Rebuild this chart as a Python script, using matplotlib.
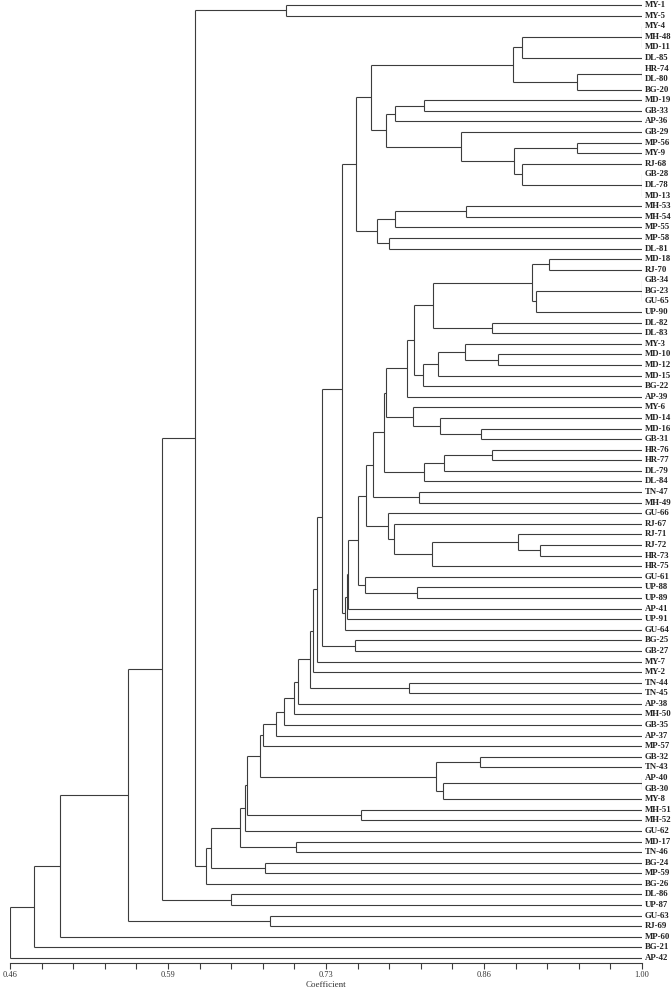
"""
Dendrograma (coeficiente de similaridade) de 91 acessos.
Saida: out.png
"""

import matplotlib
matplotlib.use('Agg')
import matplotlib.pyplot as plt
import numpy as np

leaves = [
    'MY-1', 'MY-5', 'MY-4', 'MH-48', 'MD-11', 'DL-85', 'HR-74', 'DL-80', 'BG-20',
    'MD-19', 'GB-33', 'AP-36', 'GB-29', 'MP-56', 'MY-9', 'RJ-68', 'GB-28', 'DL-78',
    'MD-13', 'MH-53', 'MH-54', 'MP-55', 'MP-58', 'DL-81', 'MD-18', 'RJ-70', 'GB-34',
    'BG-23', 'GU-65', 'UP-90', 'DL-82', 'DL-83', 'MY-3', 'MD-10', 'MD-12', 'MD-15',
    'BG-22', 'AP-39', 'MY-6', 'MD-14', 'MD-16', 'GB-31', 'HR-76', 'HR-77', 'DL-79',
    'DL-84', 'TN-47', 'MH-49', 'GU-66', 'RJ-67', 'RJ-71', 'RJ-72', 'HR-73', 'HR-75',
    'GU-61', 'UP-88', 'UP-89', 'AP-41', 'UP-91', 'GU-64', 'BG-25', 'GB-27', 'MY-7',
    'MY-2', 'TN-44', 'TN-45', 'AP-38', 'MH-50', 'GB-35', 'AP-37', 'MP-57', 'GB-32',
    'TN-43', 'AP-40', 'GB-30', 'MY-8', 'MH-51', 'MH-52', 'GU-62', 'MD-17', 'TN-46',
    'BG-24', 'MP-59', 'BG-26', 'DL-86', 'UP-87', 'GU-63', 'RJ-69', 'MP-60', 'BG-21',
    'AP-42',
]

# (no, filhos, coeficiente)
grupo_a = [
    ('a1', ['MY-1', 'MY-5'], 0.696),
    ('a2', ['MY-4', 'MH-48', 'MD-11'], 1.00),
    ('a3', ['a2', 'DL-85'], 0.8975),
    ('a4', ['HR-74', 'DL-80'], 1.00),
    ('a5', ['a4', 'BG-20'], 0.9445),
    ('a6', ['a3', 'a5'], 0.890),
    ('a7', ['MD-19', 'GB-33'], 0.814),
    ('a8', ['a7', 'AP-36'], 0.789),
    ('a9', ['MP-56', 'MY-9'], 0.9445),
    ('a10', ['GB-28', 'DL-78', 'MD-13'], 1.00),
    ('a11', ['RJ-68', 'a10'], 0.8975),
    ('a12', ['a9', 'a11'], 0.8907),
    ('a13', ['GB-29', 'a12'], 0.845),
    ('a14', ['a8', 'a13'], 0.781),
    ('a15', ['a6', 'a14'], 0.7685),
    ('a16', ['MH-53', 'MH-54'], 0.850),
    ('a17', ['a16', 'MP-55'], 0.789),
    ('a18', ['MP-58', 'DL-81'], 0.784),
    ('a19', ['a17', 'a18'], 0.7736),
    ('a20', ['a15', 'a19'], 0.7557),
]

grupo_b = [
    ('b1', ['MD-18', 'RJ-70'], 0.9206),
    ('b2', ['GB-34', 'BG-23', 'GU-65'], 1.00),
    ('b3', ['b2', 'UP-90'], 0.9095),
    ('b4', ['b1', 'b3'], 0.906),
    ('b5', ['DL-82', 'DL-83'], 0.872),
    ('b6', ['b4', 'b5'], 0.8215),
    ('b7', ['MD-10', 'MD-12'], 0.877),
    ('b8', ['MY-3', 'b7'], 0.849),
    ('b9', ['b8', 'MD-15'], 0.8257),
    ('b10', ['b9', 'BG-22'], 0.813),
    ('b11', ['b6', 'b10'], 0.805),
    ('b12', ['b11', 'AP-39'], 0.799),
    ('b13', ['MD-16', 'GB-31'], 0.8625),
    ('b14', ['MD-14', 'b13'], 0.8274),
    ('b15', ['MY-6', 'b14'], 0.8044),
    ('b16', ['b12', 'b15'], 0.7809),
    ('b17', ['HR-76', 'HR-77'], 0.872),
    ('b18', ['b17', 'DL-79'], 0.8309),
    ('b19', ['b18', 'DL-84'], 0.814),
    ('b20', ['b16', 'b19'], 0.7796),
    ('b21', ['TN-47', 'MH-49'], 0.8095),
    ('b22', ['b20', 'b21'], 0.770),
    ('b23', ['RJ-72', 'HR-73'], 0.9129),
    ('b24', ['RJ-71', 'b23'], 0.894),
    ('b25', ['b24', 'HR-75'], 0.8206),
    ('b26', ['RJ-67', 'b25'], 0.788),
    ('b27', ['GU-66', 'b26'], 0.783),
    ('b28', ['b22', 'b27'], 0.764),
    ('b29', ['UP-88', 'UP-89'], 0.8078),
    ('b30', ['GU-61', 'b29'], 0.7634),
    ('b31', ['b28', 'b30'], 0.7574),
    ('b32', ['b31', 'AP-41'], 0.7488),
    ('b33', ['b32', 'UP-91'], 0.7480),
    ('b34', ['b33', 'GU-64'], 0.7463),
]

grupo_c = [
    ('c1', ['a20', 'b34'], 0.7433),
    ('c2', ['BG-25', 'GB-27'], 0.7548),
    ('c3', ['c1', 'c2'], 0.7266),
    ('c4', ['c3', 'MY-7'], 0.7224),
    ('c5', ['c4', 'MY-2'], 0.719),
    ('c6', ['TN-44', 'TN-45'], 0.801),
    ('c7', ['c5', 'c6'], 0.7164),
    ('c8', ['c7', 'AP-38'], 0.7061),
    ('c9', ['c8', 'MH-50'], 0.7027),
    ('c10', ['c9', 'GB-35'], 0.6942),
    ('c11', ['c10', 'AP-37'], 0.6873),
    ('c12', ['c11', 'MP-57'], 0.6762),
]

grupo_d = [
    ('d1', ['GB-32', 'TN-43'], 0.8616),
    ('d2', ['AP-40', 'GB-30'], 1.00),
    ('d3', ['d2', 'MY-8'], 0.830),
    ('d4', ['d1', 'd3'], 0.824),
    ('d5', ['c12', 'd4'], 0.6737),
    ('d6', ['MH-51', 'MH-52'], 0.760),
    ('d7', ['d5', 'd6'], 0.6626),
    ('d8', ['d7', 'GU-62'], 0.6609),
    ('d9', ['MD-17', 'TN-46'], 0.7044),
    ('d10', ['d8', 'd9'], 0.6566),
    ('d11', ['BG-24', 'MP-59'], 0.6779),
    ('d12', ['d10', 'd11'], 0.6318),
    ('d13', ['d12', 'BG-26'], 0.6275),
]

grupo_e = [
    ('e1', ['a1', 'd13'], 0.6181),
    ('e2', ['DL-86', 'UP-87'], 0.6489),
    ('e3', ['e1', 'e2'], 0.5899),
    ('e4', ['GU-63', 'RJ-69'], 0.6822),
    ('e5', ['e3', 'e4'], 0.5609),
    ('e6', ['e5', 'MP-60'], 0.5028),
    ('e7', ['e6', 'BG-21'], 0.4806),
    ('e8', ['e7', 'AP-42'], 0.4601),
]

tick_vals = [0.46, 0.595, 0.73, 0.865, 1.00]
tick_text = ['0.46', '0.59', '0.73', '0.86', '1.00']

plt.rcParams['font.family'] = ['Liberation Serif', 'DejaVu Serif']
LINE = '#3c3c3c'

fig = plt.figure(figsize=(6.72, 9.94), dpi=100)
ax = fig.add_axes([10 / 672, 31 / 994, 632 / 672, 963 / 994])

ypos = {name: i for i, name in enumerate(leaves)}
xpos = {name: 1.0 for name in leaves}

for node, kids, h in grupo_a + grupo_b + grupo_c + grupo_d + grupo_e:
    ys = [ypos[k] for k in kids]
    ypos[node] = (min(ys) + max(ys)) / 2
    xpos[node] = h
    ax.plot([h, h], [min(ys), max(ys)], color=LINE, lw=0.8,
            solid_capstyle='butt')
    for k in kids:
        ax.plot([h, xpos[k]], [ypos[k], ypos[k]], color=LINE, lw=0.8,
                solid_capstyle='butt')

for i, name in enumerate(leaves):
    ax.annotate(name, xy=(1.0, i), xytext=(1.8, 0), textcoords='offset points',
                ha='left', va='center', fontsize=6.3, fontweight='bold',
                color='#222222', annotation_clip=False)

ax.set_xlim(0.46, 1.0)
ax.set_ylim(len(leaves) - 1 + 0.47, -0.47)
for s in ['top', 'left', 'right']:
    ax.spines[s].set_visible(False)
ax.spines['bottom'].set_color(LINE)
ax.spines['bottom'].set_linewidth(0.8)
ax.set_yticks([])
ax.set_xticks(tick_vals)
ax.set_xticklabels(tick_text, fontsize=6)
ax.set_xticks(np.arange(0.46, 1.0001, 0.027), minor=True)
ax.tick_params(axis='x', which='both', direction='out', length=4, width=0.8,
               color=LINE, pad=2, labelcolor='#333333')
ax.set_xlabel('Coefficient', fontsize=6.5, labelpad=1, color='#333333')

fig.savefig('out.png', dpi=100)
